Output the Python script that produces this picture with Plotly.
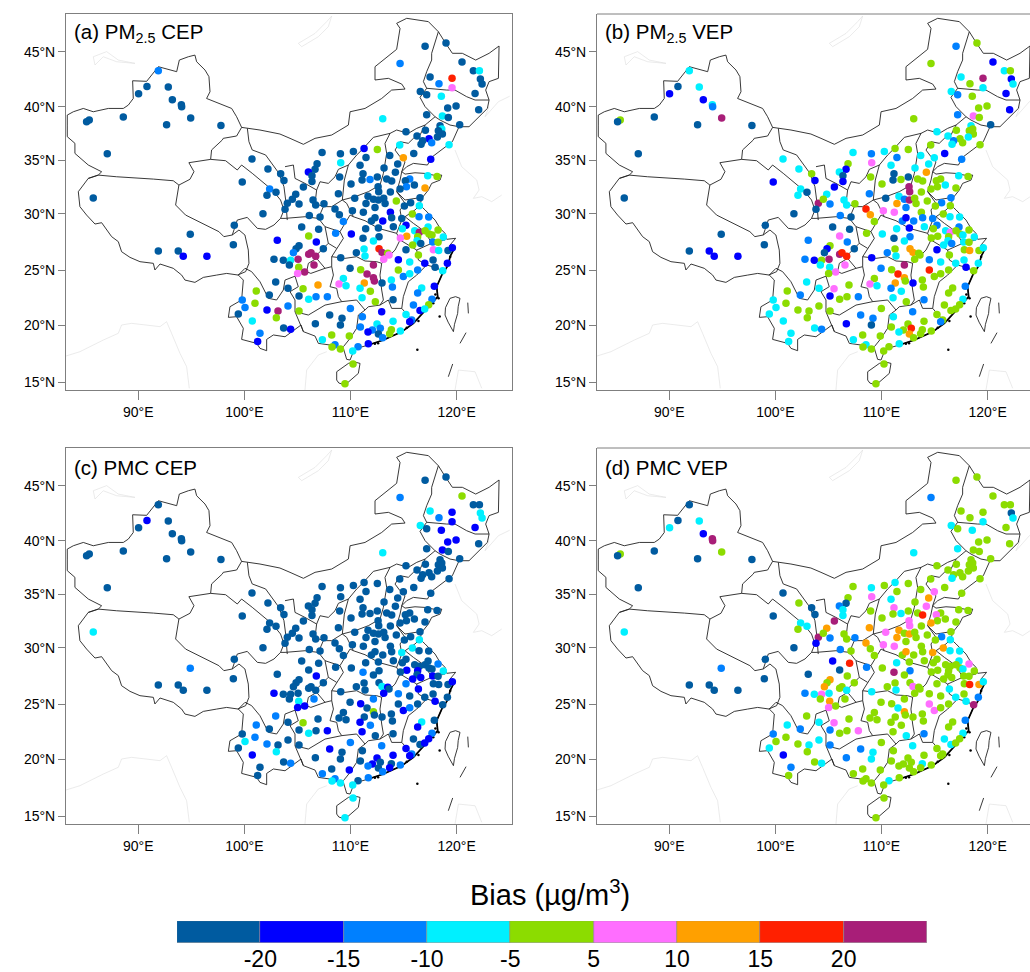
import numpy as np
import plotly.graph_objects as go

# representative bias of each colour class (ug/m3)
D, B, L, C, G, P, O, R, M = -25, -18, -13, -8, 0, 8, 13, 18, 25

levels = [-20, -15, -10, -5, 5, 10, 15, 20]
level_labels = ["-20", "-15", "-10", "-5", "5", "10", "15", "20"]
palette = ["#005BA0", "#0000FF", "#0080FF", "#00F0FF", "#8CDC00", "#FF6EFF", "#FFA000", "#FF2000", "#A81E78"]

lon_west = [91.89,90.82,90.03,92.83,93.21,94.06,94.09,94.94,92.67,97.79,
88.59,85.38,85.13,87.08,85.76,100.72,102.22,103.42,103.73,99.8,
102.38,102.98,102.13,104.05,103.83,101.75,99.05,94.9,98.96,103.1,
91.89,93.77,94.24,96.47,102.79,103.67,104.36,104.24,102.95,104.11,
101.12,102.35,99.8,101.0,100.06,102.13,103.17,104.11,99.43,103.01,
100.75,103.7,101.47,101.25,104.36]
lat_west = [43.21,41.79,41.13,41.73,40.59,40.14,39.96,38.93,38.33,38.27,
39.02,38.75,38.6,35.71,31.71,35.23,34.33,33.9,33.3,33.15,
32.52,32.22,31.95,31.23,30.7,30.3,29.24,28.43,27.5,27.89,
26.92,26.92,26.44,26.44,26.17,26.08,26.1,25.66,24.12,23.55,
23.31,22.95,22.5,22.2,21.83,21.6,21.5,21.95,21.23,20.9,
20.6,19.97,19.49,18.76,19.85]
a_west = [L,D,D,D,D,D,D,D,D,D,
D,D,D,D,D,D,D,D,D,D,
L,D,D,D,D,D,D,D,D,B,
D,D,B,B,D,D,C,D,D,D,
G,D,L,G,L,B,M,L,D,G,
C,D,L,B,B]
b_west = [C,D,B,C,B,C,L,M,D,D,
D,G,D,D,D,C,C,G,B,B,
C,D,C,M,D,D,D,D,D,L,
D,B,B,B,L,B,G,C,C,C,
G,L,C,G,C,G,G,G,C,G,
C,C,C,C,L]
c_west = [D,B,D,D,D,D,D,D,D,D,
D,D,D,D,C,D,D,D,D,D,
D,D,D,D,D,D,D,L,D,D,
D,D,D,D,B,D,D,D,L,D,
L,D,D,L,C,L,D,D,D,C,
B,D,D,D,L]
d_west = [D,D,C,C,B,M,M,G,D,D,
D,G,D,D,C,D,G,D,D,D,
C,C,G,M,B,D,D,L,D,D,
D,D,D,D,L,C,P,G,G,C,
C,L,L,G,G,G,C,C,C,G,
B,G,L,G,C]

lon_north = [117.03,119.0,114.67,120.51,121.58,122.15,117.5,122.24,122.4,118.34,
119.57,119.57,121.74,116.58,117.18,118.56,119.95,119.16,122.08,117.18,
118.66,119.22,113.04,120.29,118.44,118.6,117.06,115.23,118.28,118.66,
118.19,116.27,117.4,116.8,116.65,117.65,119.29,114.64,112.53,111.28,
110.27,109.05,107.32,115.96,113.7,114.98,117.56,111.46,110.9,106.85,
109.08,114.45,113.16,106.66,106.03,114.23,117.28,118.16,106.37,106.37,
108.98,111.18,111.09,111.84,112.53,113.41,113.88,115.58,115.17,116.02,
115.27,114.67,117.02,110.05,112.6,112.66,113.76,105.56,108.86,104.84,
104.52,111.65,110.4,106.47,105.15,106.72,107.5,111.46,112.16,112.63,
113.13,114.32,115.67,116.49,115.08,116.55,108.54,112.31,113.26,114.83]
lat_north = [45.41,45.71,43.87,43.99,43.21,43.21,42.64,42.46,42.0,42.04,
42.52,41.67,41.16,41.34,41.04,40.89,40.02,39.84,39.69,39.23,
39.11,38.99,38.87,38.33,38.24,37.94,37.82,37.7,37.79,37.49,
37.22,37.31,37.07,36.89,36.56,36.71,36.52,36.49,36.1,36.19,
35.92,35.71,35.83,35.74,35.56,35.35,35.2,35.38,34.66,34.81,
34.9,34.78,34.42,34.3,34.06,34.03,33.72,33.66,33.72,33.21,
33.6,33.9,33.33,33.39,33.6,33.42,33.24,33.42,33.27,32.88,
32.73,32.52,32.61,32.97,32.73,32.28,32.25,32.7,32.1,32.04,
31.59,31.86,31.68,31.53,31.16,31.07,31.19,31.22,31.6,31.53,
31.68,31.44,31.29,31.02,30.98,31.74,30.71,30.86,31.22,29.87]
a_north = [D,D,L,D,D,C,D,D,D,L,
R,P,D,D,D,C,D,D,D,D,
C,D,C,D,D,C,D,D,D,D,
D,D,B,D,D,L,C,C,G,B,
D,D,D,D,D,O,B,D,D,D,
C,D,D,D,B,D,C,G,D,D,
D,D,D,L,D,D,D,L,D,D,
L,D,O,D,D,D,D,D,D,D,
D,D,D,D,D,D,D,D,D,D,
D,G,D,C,D,D,D,D,D,D]
b_north = [L,G,G,B,C,G,C,B,C,G,
M,C,B,C,L,G,G,G,B,L,
P,G,G,D,C,G,G,C,G,G,
C,C,G,L,C,G,G,G,G,G,
C,L,C,B,C,C,L,L,C,G,
P,C,C,B,C,O,C,G,D,B,
G,D,D,G,D,G,G,G,G,C,
G,G,G,G,M,M,G,B,L,C,
G,C,D,C,L,C,G,O,L,M,
G,G,L,G,G,L,R,L,G,L]
c_north = [D,D,L,G,D,D,C,C,C,L,
B,B,B,C,D,B,B,B,D,D,
B,D,C,D,D,D,D,D,D,D,
D,D,D,D,D,D,D,D,D,D,
D,D,D,D,D,D,D,D,D,D,
D,D,D,D,D,D,D,D,D,D,
D,D,D,D,D,D,D,D,D,D,
D,D,D,D,D,D,D,D,D,D,
D,D,D,D,D,D,D,D,D,D,
D,D,D,C,D,D,D,D,D,C]
d_north = [G,G,L,G,G,G,G,D,C,G,
G,C,G,C,G,C,G,G,G,C,
G,G,C,G,G,G,G,G,G,G,
G,G,G,G,C,G,G,G,G,C,
G,C,G,G,G,P,G,G,C,G,
P,O,G,D,L,P,G,G,C,C,
G,P,G,C,G,G,R,G,P,G,
G,O,G,G,P,P,G,M,O,O,
G,O,P,G,L,G,L,O,G,O,
G,G,L,C,G,G,O,G,G,O]

lon_south = [113.76,115.83,116.46,117.37,108.95,109.33,106.12,107.13,110.18,111.21,
111.97,112.31,113.04,113.88,114.04,115.23,114.89,117.31,105.4,107.0,
111.43,112.63,108.6,110.08,116.05,116.49,117.03,117.4,117.68,118.25,
118.75,106.06,115.3,114.7,116.33,116.27,112.69,111.18,112.16,117.75,
118.25,115.86,116.62,106.78,105.15,104.87,104.62,107.44,111.28,112.69,
112.97,113.51,113.63,113.13,115.23,117.81,118.31,119.19,119.6,106.06,
106.28,106.72,105.06,110.55,111.37,109.08,114.51,116.4,115.58,117.78,
117.0,119.13,106.56,105.12,112.16,109.96,110.96,114.51,116.33,117.97,
118.69,105.68,105.02,111.56,114.98,115.58,112.16,109.33,112.25,113.85,
112.97,111.3,108.92,109.58,106.94,117.9,113.95,110.9,105.53,116.71,
116.33,111.87,105.15,106.75,107.82,111.09,106.06,117.68,112.34,114.01,
115.93,117.37,109.99,105.15,112.94,116.55,116.99,108.04,111.12,115.23,
109.2,109.05,106.69,114.01,112.5,115.77,115.58,110.93,112.81,114.7,
113.85,113.69,112.06,111.65,112.63,113.03,108.23,109.89,107.35,111.68,
108.54,108.26,109.05,110.71,110.21,110.24,109.48]
lat_south = [30.42,30.27,30.02,29.99,30.2,29.6,30.14,29.99,30.57,30.42,
29.63,29.93,29.63,29.93,29.12,29.24,28.94,29.09,29.09,28.88,
28.94,29.0,28.52,28.46,28.76,28.61,28.76,28.46,28.37,28.82,
28.19,28.28,28.25,28.1,28.22,27.86,28.22,28.07,27.83,27.74,
27.71,27.46,27.61,27.74,27.4,27.13,26.77,27.13,27.1,27.13,
26.8,26.71,26.56,26.17,27.04,27.04,26.98,26.98,27.22,26.62,
26.77,26.44,26.17,26.77,26.47,26.32,26.14,26.56,25.93,26.11,
25.81,25.81,25.66,25.45,25.66,25.36,25.24,25.21,25.21,25.45,
25.15,25.03,24.9,24.85,24.63,24.88,24.51,24.45,24.21,24.3,
24.03,24.03,23.94,23.79,23.85,23.73,23.67,23.55,23.52,23.58,
23.13,23.28,22.86,22.8,22.8,22.71,22.56,22.56,22.35,22.53,
22.04,22.07,21.74,21.5,21.44,21.56,21.68,21.14,20.99,21.2,
20.84,20.24,20.36,20.57,20.33,20.69,20.54,20.06,19.94,19.7,
19.82,19.46,19.79,19.6,19.42,19.09,19.33,19.24,18.91,18.55,
18.46,18.25,18.07,18.28,17.89,16.71,14.94]
a_south = [B,G,L,L,D,L,D,D,D,D,
D,D,B,D,D,B,C,C,D,D,
D,D,L,B,C,M,G,G,G,G,
C,G,O,P,G,C,D,D,C,L,
G,G,D,B,D,D,L,D,C,R,
M,G,P,P,D,P,C,D,B,M,
M,M,M,D,C,D,B,G,C,D,
B,B,M,G,M,D,G,G,L,D,
C,M,P,M,L,C,M,C,M,C,
D,O,P,C,O,B,L,C,G,C,
L,G,D,L,L,C,C,L,G,D,
L,G,L,G,B,B,C,D,L,C,
D,D,D,C,C,L,B,L,L,C,
G,G,L,B,D,L,G,G,C,B,
L,G,G,L,C,G,G]
b_south = [G,G,C,C,O,G,L,D,P,P,
L,B,L,L,C,L,G,L,D,D,
C,B,G,C,C,P,G,G,C,G,
C,P,G,G,G,C,L,D,C,C,
G,C,L,L,G,B,D,D,G,O,
O,G,G,G,B,G,O,G,C,M,
R,R,M,L,C,B,L,G,C,C,
C,C,P,C,M,L,G,R,G,B,
G,P,G,R,G,G,O,G,G,G,
B,O,P,C,G,L,G,L,P,G,
G,C,B,G,L,C,G,C,G,L,
G,G,G,G,L,G,G,L,C,G,
L,D,B,G,G,G,L,G,R,G,
G,G,G,C,O,G,G,G,C,C,
C,G,G,G,G,G,G]
c_south = [D,C,D,D,D,D,D,D,D,D,
D,D,D,D,D,D,D,D,D,D,
D,D,D,D,D,D,D,D,D,L,
C,D,B,D,B,D,D,L,D,B,
D,B,B,B,D,D,D,D,D,D,
C,B,D,B,L,D,D,D,B,D,
D,D,D,D,D,D,L,B,D,D,
D,D,L,C,L,D,B,D,D,B,
D,B,B,D,B,L,G,D,D,D,
D,D,D,D,D,D,D,B,G,C,
B,L,D,D,B,B,C,L,D,D,
D,B,L,D,L,D,B,B,D,B,
D,D,D,B,B,L,B,D,D,L,
D,B,B,L,D,L,D,B,L,L,
L,C,C,D,C,C,C]
d_south = [G,O,C,C,G,G,L,G,P,P,
G,O,G,G,G,G,G,C,B,R,
C,G,L,G,G,G,G,G,C,P,
G,D,G,G,G,G,L,M,G,G,
G,G,G,G,O,G,O,G,G,G,
P,G,G,G,G,G,R,O,C,G,
G,C,C,G,C,C,G,C,G,G,
C,L,G,O,G,G,G,P,G,C,
M,G,P,C,P,G,O,G,G,G,
G,G,G,G,G,L,G,G,P,G,
G,G,L,G,P,G,G,C,C,L,
C,G,G,L,C,C,G,L,G,G,
C,C,L,G,G,G,G,G,G,G,
C,G,G,G,G,G,G,G,G,G,
G,G,G,C,G,G,G]

lon_all = lon_west + lon_north + lon_south
lat_all = lat_west + lat_north + lat_south
bias_a = a_west + a_north + a_south
bias_b = b_west + b_north + b_south
bias_c = c_west + c_north + c_south
bias_d = d_west + d_north + d_south

# national boundary (lon, lat)
outer = [(83.31,38.3),(83.31,39.2),(83.88,39.5),(84.82,39.8),(85.76,39.5),(87.18,39.8),(88.59,39.8),(89.06,40.1),(89.53,40.7),(89.47,42.3),
(90.79,42.25),(91.26,42.8),(91.89,43.57),(93.62,43.12),(93.87,44.17),(94.72,44.47),(95.34,44.62),(95.5,44.02),(96.29,43.27),(96.66,42.67),
(96.76,41.31),(96.44,40.7),(98.01,40.1),(98.8,39.8),(99.27,39.05),(99.74,38.09),(101.47,37.85),(103.35,37.49),(104.3,37.1),(105.56,36.56),
(106.66,37.1),(108.23,37.4),(109.8,38.3),(109.96,39.5),(111.37,39.8),(112.94,40.7),(113.88,41.46),(115.14,41.55),(114.83,42.0),(113.57,42.52),
(112.31,42.37),(112.31,43.57),(114.35,45.14),(114.67,47.03),(114.35,47.49),(115.3,47.94),(117.34,47.64),(118.28,46.73),(118.97,45.68),(119.6,44.78),
(120.54,44.78),(121.8,44.17),(123.06,44.78),(124.0,45.44),(123.94,42.52),(123.06,42.22),(122.74,41.46),(123.06,40.56),(122.9,39.8),(122.11,39.05),
(121.17,38.15),(120.23,38.15),(119.6,36.8),(118.34,35.89),(117.72,35.44),(117.25,34.69),(115.93,34.84),(115.3,34.54),(114.83,34.09),(115.14,33.87),
(116.08,33.99),(117.03,33.93),(117.81,33.78),(118.6,33.78),(118.44,33.33),(117.65,33.03),(117.34,32.43),(116.71,31.68),(116.55,31.07),(117.03,30.63),
(117.97,29.72),(118.44,28.97),(118.91,28.52),(119.07,27.98),(119.91,28.07),(119.38,27.46),(119.7,27.01),(119.38,26.41),(119.22,25.66),(118.6,24.75),
(118.12,23.7),(118.22,22.8),(117.65,22.2),(116.87,21.44),(115.93,20.39),(114.83,19.64),(113.1,18.88),(111.68,18.43),(110.58,18.13),(110.27,17.83),
(109.96,17.08),(109.64,17.14),(109.33,18.13),(108.54,18.37),(106.97,18.58),(106.66,19.24),(105.56,19.64),(105.34,20.24),(104.52,19.64),(103.83,19.18),
(102.73,19.34),(102.1,18.94),(102.1,17.92),(101.47,18.13),(101.16,18.58),(99.74,18.94),(99.9,19.94),(99.27,20.99),(98.49,20.93),(98.64,21.89),
(99.74,22.5),(99.9,24.3),(99.43,24.75),(98.33,24.9),(97.39,24.75),(96.13,24.54),(95.34,24.09),(94.4,24.3),(94.09,24.75),(93.3,25.36),
(92.05,25.75),(91.57,25.21),(91.42,25.81),(90.16,25.96),(89.22,26.35),(88.43,26.86),(88.12,27.77),(87.49,28.22),(86.55,29.48),(85.92,29.36),
(85.13,30.17),(84.5,30.93),(84.35,32.28),(85.29,33.48),(86.23,33.78),(86.55,34.08),(85.29,34.69),(84.03,35.74),(84.03,36.65),(83.31,37.25),(83.31,38.3)]
hainan = [(109.8,16.77),(110.4,16.9),(110.9,16.77),(110.74,15.87),(109.48,14.82),(108.9,15.0),(108.7,15.27),(108.7,16.02),(109.8,16.77)]
taiwan = [(119.38,22.65),(119.9,22.8),(120.32,22.65),(120.15,21.9),(120.1,21.29),(119.8,20.3),(119.7,19.64),(119.2,20.5),(118.91,21.14),(118.95,21.8),(119.38,22.65)]
sea_1 = [(121.05,22.26),(121.11,21.29)]
sea_2 = [(120.32,18.58),(120.89,19.55)]
sea_3 = [(119.22,15.57),(119.63,16.72)]

# dense coastline with many small islands
coast_dense = [(119.38,27.46),(119.7,27.01),(119.38,26.41),(119.22,25.66),(118.6,24.75),(118.12,23.7),(118.22,22.8),(117.65,22.2),(116.87,21.44),(115.93,20.39),(114.83,19.64),(113.1,18.88),(111.68,18.43)]

# provincial boundaries
prov_1 = [(85.29,33.48),(86.23,33.78),(87.96,33.63),(89.06,33.57),(91.42,33.42),(93.3,33.27),(93.83,32.88)]
prov_2 = [(93.83,32.88),(94.87,33.4),(95.25,34.09),(94.77,34.9),(96.82,35.2),(96.91,36.05),(97.92,36.95),(98.01,37.1),(99.27,37.31),(99.74,38.09)]
prov_3 = [(93.83,32.88),(93.52,31.08),(94.46,30.17),(96.03,29.42),(97.6,28.67),(98.07,28.22),(98.86,28.37),(99.49,28.82),(100.05,28.37),(100.37,27.01),(100.43,25.81),(100.12,25.06),(99.64,24.9),(99.39,24.76)]
prov_4 = [(98.86,28.37),(99.33,29.72),(100.27,29.96),(101.22,28.97),(102.0,28.88),(102.79,29.27),(103.41,29.87),(103.83,29.87),(105.71,30.02),(106.97,29.87),(107.6,29.12),(109.01,28.67),(109.33,28.07),(108.7,27.16),(108.23,26.41)]
prov_5 = [(96.82,35.2),(98.23,35.08),(99.33,34.24),(99.74,34.69),(100.74,33.94),(101.69,33.19),(102.63,32.43),(103.41,31.53),(103.73,30.63),(103.41,29.87)]
prov_6 = [(100.28,38.0),(100.43,36.8),(100.74,36.05),(102.0,35.6),(103.26,33.94),(103.73,32.73),(103.89,31.53),(104.04,29.72)]
prov_7 = [(107.13,33.18),(107.91,33.03),(108.54,33.63),(108.86,34.3),(109.8,34.69),(110.58,35.59),(111.21,36.19),(112.16,37.19),(113.73,37.55),(114.35,37.85),(115.45,37.55),(116.24,38.0),(117.03,38.3),(117.97,39.05)]
prov_8 = [(118.28,46.73),(117.65,44.78),(117.65,44.17),(117.18,43.12),(116.87,42.22),(117.18,41.62),(119.07,41.46),(119.85,41.46),(120.95,40.86),(121.74,40.56),(123.06,40.56)]
prov_9 = [(117.18,41.62),(116.55,40.8),(117.03,39.96),(117.97,39.05),(118.44,38.75),(119.38,38.3),(120.23,38.15)]
prov_10 = [(117.03,38.3),(116.55,37.4),(115.93,37.1),(115.45,36.65),(114.67,36.8),(114.2,36.04),(114.67,35.44),(115.14,34.99),(114.83,34.09)]
prov_11 = [(113.73,37.55),(113.25,36.64),(113.41,35.74),(113.1,33.93),(112.78,32.88),(111.68,32.28),(110.43,31.83),(109.23,31.53),(109.42,33.33),(109.8,34.69)]
prov_12 = [(114.83,34.09),(114.67,33.33),(114.35,32.28),(115.14,31.23),(114.67,30.63),(114.83,29.72),(114.35,28.52),(112.63,28.97),(111.37,29.66),(110.27,30.02),(109.64,31.23),(109.23,31.53)]
prov_13 = [(114.35,32.28),(115.14,31.53),(116.55,31.74)]
prov_14 = [(114.35,28.52),(114.67,27.92),(114.2,27.01),(113.57,26.41),(112.94,25.81),(112.47,25.96),(111.37,26.02),(110.58,26.41),(109.48,26.26),(108.23,26.41)]
prov_15 = [(112.94,25.81),(112.78,24.75),(112.94,23.4),(113.1,22.5),(112.78,22.04),(111.68,21.89),(111.37,21.59),(110.58,22.5),(109.17,22.35),(108.86,22.8),(108.7,23.55),(108.07,23.7),(108.39,24.75),(108.23,25.51),(108.23,26.41)]
prov_16 = [(111.37,21.59),(110.74,21.14),(110.58,19.94),(109.96,19.03),(109.33,18.28)]
prov_17 = [(109.01,28.67),(109.48,29.42),(109.96,30.17),(110.27,30.02)]
prov_18 = [(107.6,29.12),(107.76,28.37),(107.91,27.62),(108.7,27.16)]
prov_19 = [(107.91,27.62),(106.97,26.71),(106.81,26.26),(107.6,25.36),(108.23,25.51)]
prov_20 = [(106.81,26.26),(106.03,25.81),(105.87,25.06),(106.26,24.9),(107.6,25.36)]
prov_21 = [(105.87,25.06),(104.77,24.66),(103.83,24.3),(103.67,23.4),(103.04,22.5),(102.26,22.65),(101.47,24.15),(100.68,25.06),(100.06,25.36),(99.43,24.75)]
prov_22 = [(104.77,24.66),(105.08,23.7),(104.3,23.25),(104.77,22.5),(104.77,21.44),(106.03,21.14),(107.6,22.04),(109.17,22.35)]
prov_23 = [(104.77,21.44),(105.56,19.64)]
prov_24 = [(112.78,22.04),(113.57,22.5),(113.88,21.74),(114.83,21.74),(114.98,22.8),(115.45,24.15),(116.24,24.75),(117.18,25.66),(118.28,25.36),(118.6,24.75)]
prov_25 = [(114.83,21.74),(115.52,20.99),(115.93,20.39)]
prov_26 = [(117.18,25.66),(116.4,26.11),(116.24,27.01),(115.45,27.46),(114.67,27.92)]
prov_27 = [(116.24,27.01),(117.65,27.62),(118.91,27.92)]
prov_28 = [(117.65,27.62),(117.03,28.67),(115.93,29.42),(115.14,30.02),(116.08,30.63),(116.55,31.07)]
prov_29 = [(107.13,33.18),(106.81,32.43),(105.71,33.03),(104.77,33.48),(104.62,34.69),(103.83,34.54)]
prov_30 = [(106.81,32.43),(106.66,31.22),(107.44,30.93),(108.23,30.93),(109.23,31.53)]
prov_31 = [(107.44,30.93),(106.97,29.87)]

# gray geography outside the national boundary
gray_1 = [(85.76,44.47),(87.02,44.93),(88.12,44.17),(89.69,43.87),(87.96,44.02),(86.7,44.47),(85.92,43.72),(85.76,44.47)]
gray_2 = [(108.23,48.15),(107.91,47.18),(106.97,46.28),(105.4,45.38),(105.09,45.68),(106.66,46.58),(107.76,47.64),(108.23,48.15)]
gray_3 = [(83.19,17.44),(84.5,17.83),(86.7,18.88),(88.12,19.49),(88.43,20.24),(89.37,20.39),(92.05,20.09),(92.67,20.54),(93.14,19.49),(93.93,17.68),(94.56,16.47),(94.81,14.52)]
gray_4 = [(119.85,36.04),(120.48,34.54),(121.9,33.33),(122.12,32.43),(121.58,31.68),(122.37,31.83),(123.31,31.38),(124.25,31.98)]
gray_5 = [(123.06,39.96),(122.68,39.05),(123.94,40.41),(125.0,40.9)]
gray_6 = [(105.71,14.37),(105.87,16.17),(106.97,17.53),(107.76,17.83)]
gray_7 = [(119.85,14.37),(120.17,16.17),(121.74,16.02),(122.37,14.52)]

island_lon = [118.3, 117.8, 116.4, 112.3, 119.2, 119.4, 118.4, 116.3, 112.6, 118.0, 115.3]
island_lat = [22.65, 22.2, 20.6, 18.55, 27.0, 26.4, 21.0, 18.0, 18.6, 23.0, 20.0]

tick_lons = [90, 100, 110, 120]
tick_lon_text = ["90°E", "100°E", "110°E", "120°E"]
tick_lat_pos = [15.09, 20.24, 25.2, 30.27, 35.14, 39.96, 44.93]
tick_lat_text = ["15°N", "20°N", "25°N", "30°N", "35°N", "40°N", "45°N"]

titles = ["(a) PM<sub>2.5</sub> CEP", "(b) PM<sub>2.5</sub> VEP", "(c) PMC CEP", "(d) PMC VEP"]

W, H = 1030, 972
FONT = "Liberation Sans"
AX = "#7f7f7f"


def join(paths):
    xs, ys = [], []
    for path in paths:
        xs += [p[0] for p in path] + [None]
        ys += [p[1] for p in path] + [None]
    return xs, ys


black_paths = [outer, hainan, taiwan, sea_1, sea_2, sea_3, prov_1, prov_2, prov_3, prov_4, prov_5, prov_6, prov_7, prov_8,
               prov_9, prov_10, prov_11, prov_12, prov_13, prov_14, prov_15, prov_16, prov_17, prov_18, prov_19, prov_20,
               prov_21, prov_22, prov_23, prov_24, prov_25, prov_26, prov_27, prov_28, prov_29, prov_30, prov_31]
gray_paths = [gray_1, gray_2, gray_3, gray_4, gray_5, gray_6, gray_7]
bx, by = join(black_paths)
gx, gy = join(gray_paths)
cx, cy = join([coast_dense])

panels = [
    (bias_a, "x", "y", 66, 512, 14, 390, 125.22),
    (bias_b, "x2", "y2", 597, 1030, 14, 390, 124.0),
    (bias_c, "x3", "y3", 66, 512, 448, 824, 125.22),
    (bias_d, "x4", "y4", 597, 1030, 448, 824, 124.0),
]

fig = go.Figure()
layout = dict(
    width=W, height=H, margin=dict(l=0, r=0, t=0, b=0), showlegend=False,
    paper_bgcolor="white", plot_bgcolor="white", bargap=0,
    font=dict(family=FONT, color="black"),
)
annots, shapes = [], []
for i, (bias, xa, ya, x0, x1, y0, y1, xmax) in enumerate(panels):
    fig.add_trace(go.Scatter(x=gx, y=gy, xaxis=xa, yaxis=ya, mode="lines", hoverinfo="skip",
                             line=dict(color="#dedede", width=0.6)))
    fig.add_trace(go.Scatter(x=bx, y=by, xaxis=xa, yaxis=ya, mode="lines", hoverinfo="skip",
                             line=dict(color="#222222", width=0.9)))
    fig.add_trace(go.Scatter(x=cx, y=cy, xaxis=xa, yaxis=ya, mode="lines", hoverinfo="skip",
                             line=dict(color="black", width=1.7)))
    fig.add_trace(go.Scatter(x=island_lon, y=island_lat, xaxis=xa, yaxis=ya, mode="markers", hoverinfo="skip",
                             marker=dict(color="black", size=2.5)))
    colors = [palette[int(k)] for k in np.digitize(bias, levels)]
    fig.add_trace(go.Scatter(x=lon_all, y=lat_all, xaxis=xa, yaxis=ya, mode="markers",
                             marker=dict(color=colors, size=7.5, line=dict(width=0))))
    suffix = "" if i == 0 else str(i + 1)
    clipped = x1 >= W
    layout["xaxis" + suffix] = dict(
        domain=[x0 / W, x1 / W], range=[83.19, xmax], anchor=ya, tickmode="array", tickvals=tick_lons,
        ticktext=tick_lon_text, ticks="outside", ticklen=9, tickcolor=AX, tickwidth=1, showgrid=False, zeroline=False,
        showline=True, linecolor=AX, linewidth=1, mirror=not clipped, tickfont=dict(size=14, family=FONT, color="black"),
    )
    layout["yaxis" + suffix] = dict(
        domain=[1 - y1 / H, 1 - y0 / H], range=[14.37, 48.33], anchor=xa, tickmode="array", tickvals=tick_lat_pos,
        ticktext=tick_lat_text, ticks="outside", ticklen=7, tickcolor=AX, tickwidth=1, showgrid=False, zeroline=False,
        showline=True, linecolor=AX, linewidth=1, mirror=not clipped, tickfont=dict(size=14, family=FONT, color="black"),
    )
    if clipped:
        shapes.append(dict(type="line", xref=xa + " domain", yref=ya + " domain", x0=0, x1=1, y0=1, y1=1,
                           line=dict(color=AX, width=1)))
    annots.append(dict(text=titles[i], xref="paper", yref="paper", x=(x0 + 6) / W, y=1 - (y0 + 19) / H,
                       xanchor="left", yanchor="middle", showarrow=False, font=dict(size=20.5, family=FONT, color="black")))

# colour bar as a row of bars on its own axis
bar_x = [k + 0.5 for k in range(len(palette))]
fig.add_trace(go.Bar(x=bar_x, y=[1] * len(palette), width=1, xaxis="x5", yaxis="y5", hoverinfo="skip",
                     marker=dict(color=palette, line=dict(color="#8a8a8a", width=0.6))))
layout["xaxis5"] = dict(domain=[177 / W, 927 / W], range=[0, 9], anchor="y5", tickmode="array",
                        tickvals=list(range(1, 9)), ticktext=level_labels, ticks="", showgrid=False, zeroline=False,
                        showline=False, tickfont=dict(size=23, family=FONT, color="black"))
layout["yaxis5"] = dict(domain=[1 - 943 / H, 1 - 921 / H], range=[0, 1], anchor="x5", visible=False)
annots.append(dict(text="Bias (µg/m<sup>3</sup>)", xref="paper", yref="paper", x=550 / W, y=1 - 893 / H,
                   xanchor="center", yanchor="middle", showarrow=False, font=dict(size=29, family=FONT, color="black")))
layout["annotations"] = annots
layout["shapes"] = shapes
fig.update_layout(**layout)
fig.write_html("out.html", config=dict(displayModeBar=False),
               post_script="document.body.style.margin='0';document.body.style.overflow='hidden';")
